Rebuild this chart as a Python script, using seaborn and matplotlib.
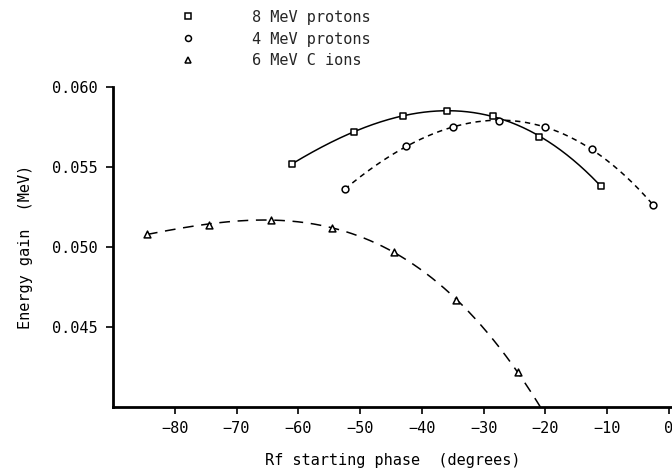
import numpy as np
import pandas as pd
import matplotlib
matplotlib.use("Agg")
import matplotlib.pyplot as plt
from matplotlib.lines import Line2D
import seaborn as sns

# ---- data ----
p8_x = [-61, -51, -43, -36, -28.5, -21, -11]
p8_y = [0.0552, 0.0572, 0.0582, 0.0585, 0.0582, 0.0569, 0.0538]
p4_x = [-52.5, -42.5, -35, -27.5, -20, -12.5, -2.5]
p4_y = [0.0536, 0.0563, 0.0575, 0.0579, 0.0575, 0.0561, 0.0526]
c6_x = [-84.5, -74.5, -64.5, -54.5, -44.5, -34.5, -24.5]
c6_y = [0.0508, 0.0514, 0.0517, 0.0512, 0.0497, 0.0467, 0.0422]
labels = ["8 MeV protons", "4 MeV protons", "6 MeV C ions"]
xticks = [-80, -70, -60, -50, -40, -30, -20, -10, 0]
yticks = [0.045, 0.050, 0.055, 0.060]

sns.set_theme(style="ticks")
plt.rcParams['font.family'] = ['DejaVu Sans Mono', 'DejaVu Sans']
FS = 11

fig = plt.figure(figsize=(6.72, 4.69), dpi=100)
L, R, B, T = 113 / 672, 672 / 672, 1 - 407 / 469, 1 - 87 / 469
ax = fig.add_axes([L, B, R - L, T - B])

series = [
    (p8_x, p8_y, "s", None, -61, -11),
    (p4_x, p4_y, "o", (3.5, 3), -52.5, -2.5),
    (c6_x, c6_y, "^", (7, 5), -84.5, -18),
]

handles = []
for (xs, ys, mk, dash, x0, x1), lab in zip(series, labels):
    coef = np.polyfit(xs, ys, 3)
    xf = np.linspace(x0, x1, 200)
    fit = pd.DataFrame({"x": xf, "y": np.polyval(coef, xf)})
    sns.lineplot(data=fit, x="x", y="y", ax=ax, color="black", linewidth=1.1)
    ln = ax.lines[-1]
    if dash is not None:
        ln.set_dashes(dash)
    pts = pd.DataFrame({"x": xs, "y": ys})
    sns.scatterplot(data=pts, x="x", y="y", ax=ax, marker=mk, s=24,
                    facecolor="white", edgecolor="black", linewidth=1.1,
                    zorder=5)
    handles.append(Line2D([], [], linestyle="none", marker=mk, markersize=4.3,
                          markerfacecolor="white", markeredgecolor="black",
                          markeredgewidth=1.1, label=lab))

ax.set_xlim(-90, 0.5)
ax.set_ylim(0.040, 0.060)
ax.set_xticks(xticks)
ax.set_xticklabels([f"{t}".replace("-", "\u2212") for t in xticks])
ax.set_yticks(yticks)
ax.set_yticklabels([f"{t:.3f}" for t in yticks])
ax.tick_params(axis="both", direction="out", length=5, width=1.2,
               labelsize=FS, color="black", labelcolor="black")
ax.tick_params(axis="y", pad=6)
ax.tick_params(axis="x", pad=5)
sns.despine(ax=ax)
for s in ["left", "bottom"]:
    ax.spines[s].set_linewidth(2)
    ax.spines[s].set_color("black")

ax.set_xlabel("Rf starting phase  (degrees)", fontsize=FS, color="black",
              labelpad=12)
ax.set_ylabel("Energy gain  (MeV)", fontsize=FS, color="black", labelpad=14)

fig.legend(handles=handles, loc="upper left",
           bbox_to_anchor=(170 / 672, 1 + 1 / 469), frameon=False,
           fontsize=FS, handlelength=1.0, handletextpad=3.7,
           labelspacing=0.45, borderpad=0.2)

fig.savefig("out.png", dpi=100)
